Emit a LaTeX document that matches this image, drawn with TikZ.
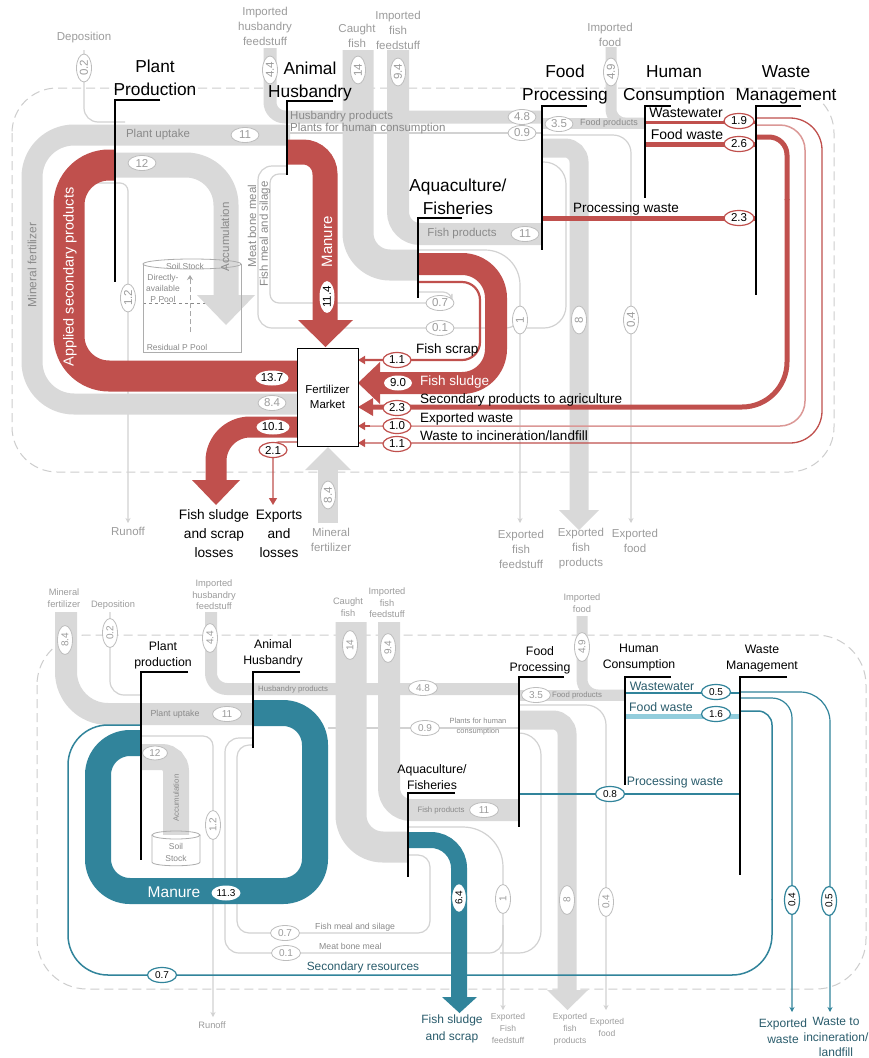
\documentclass[tikz,border=0pt]{standalone}
\usepackage{fontspec}
\setmainfont{Liberation Sans}
\usetikzlibrary{arrows.meta,shapes.geometric}
\definecolor{fred}{HTML}{C0504D}
\definecolor{fpink}{HTML}{DB9896}
\definecolor{fteal}{HTML}{31849B}
\definecolor{ftlight}{HTML}{92CDDC}
\definecolor{fttext}{HTML}{2A5C6C}
\definecolor{fband}{HTML}{D9D9D9}
\definecolor{fline}{HTML}{D2D2D2}
\definecolor{fgtext}{HTML}{9C9C9C}
\definecolor{fbtext}{HTML}{8A8A8A}
\definecolor{fdash}{HTML}{CDCDCD}
\definecolor{fell}{HTML}{BDBDBD}
\begin{document}
\begin{tikzpicture}[x=1pt,y=-1pt,
  thinl/.style={draw=fline, line width=1.2pt},
  tip/.style={-{Stealth[length=5pt,width=5pt]}},
  rtip/.style={-{Triangle[length=7pt,width=8pt]}},
  leader/.style={draw=black, line width=1.3pt},
  ttl/.style={align=center, inner sep=0pt, font=\fontsize{17.3}{23}\selectfont},
  sttl/.style={align=center, inner sep=0pt, font=\fontsize{12.3}{16}\selectfont},
  glab/.style={align=center, inner sep=0pt, text=fgtext, font=\fontsize{11.5}{15}\selectfont},
  sglab/.style={align=center, inner sep=0pt, text=fgtext, font=\fontsize{9.3}{11.5}\selectfont},
  xsglab/.style={align=center, inner sep=0pt, text=fgtext, font=\fontsize{8.5}{12}\selectfont},
  btext/.style={inner sep=0pt, text=fbtext, font=\fontsize{11.5}{12}\selectfont},
  sbtext/.style={inner sep=0pt, text=fbtext, font=\fontsize{7.8}{10}\selectfont, align=center},
  flab/.style={inner sep=0pt, anchor=west, font=\fontsize{13.5}{14}\selectfont},
  blab/.style={inner sep=0pt, align=center, font=\fontsize{13.7}{19}\selectfont},
  tlab/.style={inner sep=0pt, text=fttext, align=center, font=\fontsize{12.3}{17}\selectfont},
  num/.style={ellipse, inner sep=0.5pt, fill=white, minimum width=28pt, minimum height=15pt, font=\fontsize{11.5}{12}\selectfont},
  snum/.style={num, minimum width=29pt, minimum height=15pt, font=\fontsize{10}{11}\selectfont},
  eg/.style={draw=fell, line width=0.8pt, text=fgtext},
  er/.style={draw=fred, line width=1.2pt},
  et/.style={draw=fteal, line width=1.2pt},
  ew/.style={draw=none},
  cyl/.style={draw=fbtext!70, line width=0.8pt}
]
\path[use as bounding box, fill=white] (0,0) rectangle (868,1058);

% ================= upper diagram =================
\draw[fdash, line width=1pt, dash pattern=on 9pt off 5pt, rounded corners=45pt] (12,88) rectangle (834,472);

% thin grey flows
\draw[thinl, rounded corners=14pt] (84,50) -- (84,122) -- (125,122);
\draw[thinl, tip, rounded corners=8pt] (85,183) -- (128,183) -- (128,523);
\draw[thinl, rounded corners=14pt] (287,166) -- (258,166) -- (258,328) -- (520,328) -- (520,308);
\draw[thinl, rounded corners=9pt] (287,174) -- (270,174) -- (270,303) -- (452,303) -- (452,292) -- (418,292);
\draw[thinl, tip, rounded corners=35pt] (418,250) -- (520,250) -- (520,523);
\draw[thinl, rounded corners=22pt] (542,162) -- (566,162) -- (566,328) -- (522,328);
\draw[thinl] (290,133) -- (542,133);
\draw[thinl, tip, rounded corners=18pt] (542,135) -- (631,135) -- (631,523);

% grey bands
\draw[fband, line width=21pt, rounded corners=42pt] (297,404) -- (32,404) -- (32,135) -- (290,135);
\draw[fband, line width=25pt, rounded corners=40pt] (115,165) -- (226,165) -- (226,296);
\draw[fband, line width=13pt, rounded corners=15pt] (270,48) -- (270,117) -- (542,117);
\draw[fband, line width=11pt] (542,123) -- (645,123);
\draw[fband, line width=11pt, rounded corners=14pt] (611,47) -- (611,123) -- (645,123);
\draw[fband, line width=31pt, rounded corners=32pt] (358,50) -- (358,265) -- (418,265);
\draw[fband, line width=22pt, rounded corners=22pt] (398,50) -- (398,234) -- (542,234);
\draw[fband, line width=19pt, rounded corners=14pt] (542,148) -- (579,148) -- (579,511);
\fill[fband] (559,510) -- (599,510) -- (579,530) -- cycle;
\draw[fband, line width=20pt] (328,523) -- (328,469);
\fill[fband] (305,470) -- (351,470) -- (328,447) -- cycle;

% soil stock
\node[inner sep=0pt, text=fbtext, font=\fontsize{8.5}{10}\selectfont] (ss1) at (185,266) {Soil Stock};
\node[inner sep=0pt, text=fbtext, align=center, font=\fontsize{8.5}{11}\selectfont] (dap) at (163,288) {Directly-\\available\\P Pool};
\node[inner sep=0pt, text=fbtext, font=\fontsize{8.5}{10}\selectfont] (rpp) at (177,347) {Residual P Pool};
\draw[fbtext, line width=0.8pt, dashed] (143,303) -- (210,303);
\draw[fline!80!black, line width=1pt, dash pattern=on 5pt off 3pt, -{Stealth[length=5pt,width=6pt]}] (190,332) -- (190,275);
\fill[fband] (197,295) -- (255,295) -- (226,325) -- cycle;
\draw[cyl] (143,264) -- (143,352) -- (241,352) -- (241,264);
\draw[cyl] (192,264) ellipse (49 and 5);
\node[btext, rotate=90] (acc) at (225,237) {Accumulation};

% red flows
\draw[fred, line width=31pt, rounded corners=40pt] (297,376) -- (69,376) -- (69,165) -- (115,165);
\draw[fred, line width=25pt, rounded corners=22pt] (288,152) -- (325,152) -- (325,321);
\fill[fred] (298,320) -- (353,320) -- (325.5,347) -- cycle;
\draw[fred, line width=22pt, rounded corners=34pt] (418,264) -- (496,264) -- (496,383) -- (379,383);
\fill[fred] (380,362) -- (380,404) -- (358,383) -- cycle;
\draw[fred, line width=2.2pt, rtip, rounded corners=18pt] (418,282) -- (480,282) -- (480,360) -- (358,360);
\draw[fred, line width=3pt] (645,122) -- (756,122);
\draw[fred, line width=5pt] (645,144) -- (756,144);
\draw[fred, line width=5pt] (542,218) -- (756,218);
\draw[fred, line width=5pt, rounded corners=18pt] (756,137) -- (787,137) -- (787,200);
\draw[fred, line width=5pt, rounded corners=45pt] (787,199) -- (787,407) -- (372,407);
\fill[fred] (373,398) -- (373,416) -- (358,407) -- cycle;
\draw[fpink, line width=1.5pt, rounded corners=25pt] (756,125) -- (805,125) -- (805,426) -- (365,426);
\draw[fred, line width=1.3pt, rtip] (370,426) -- (358,426);
\draw[fred, line width=1.3pt, rtip, rounded corners=32pt] (756,118) -- (822,118) -- (822,443) -- (358,443);
\draw[fred, line width=21pt, rounded corners=34pt] (297,427) -- (216,427) -- (216,481);
\fill[fred] (192,480) -- (240,480) -- (216,505) -- cycle;
\draw[fred, line width=1.3pt, rtip, rounded corners=6pt] (297,442) -- (273,442) -- (273,505);

% fertilizer market
\node[draw=black, line width=1pt, fill=white, minimum width=61pt, minimum height=98pt, inner sep=0pt, align=center, font=\fontsize{11.5}{15}\selectfont] (fm) at (327.5,397) {Fertilizer\\Market};

% leaders
\draw[leader] (160,100) -- (115,100) -- (115,282);
\draw[leader] (333,101) -- (287,101) -- (287,175);
\draw[leader] (462,218) -- (418,218) -- (418,298);
\draw[leader] (587,106) -- (542,106) -- (542,250);
\draw[leader] (671,106) -- (645,106) -- (645,198);
\draw[leader] (801,106) -- (756,106) -- (756,295);

% band texts
\node[btext] (pu) at (158,135) {Plant uptake};
\node[btext, rotate=90, font=\fontsize{12}{12}\selectfont] (mf) at (32,265) {Mineral fertilizer};
\node[btext, anchor=west] (hp) at (290,117) {Husbandry products};
\node[btext, anchor=west] (phc) at (290,129) {Plants for human consumption};
\node[btext] (fpr) at (462,234) {Fish products};
\node[btext, font=\fontsize{9}{10}\selectfont] (fdp) at (609,123) {Food products};
\node[btext, rotate=90] (mbm) at (252,226) {Meat bone meal};
\node[btext, rotate=90] (fms) at (265,234) {Fish meal and silage};
\node[inner sep=0pt, rotate=90, text=white, font=\fontsize{14.5}{15}\selectfont] (asp) at (70,277) {Applied secondary products};
\node[inner sep=0pt, rotate=90, text=white, font=\fontsize{15}{15}\selectfont] (man) at (327,242) {Manure};

% values
\node[num, eg, rotate=90] (v1) at (84,68) {0.2};
\node[num, eg, rotate=90] (v2) at (270,70) {4.4};
\node[num, eg, rotate=90] (v3) at (358,70) {14};
\node[num, eg, rotate=90] (v4) at (398,72) {9.4};
\node[num, eg, rotate=90] (v5) at (611,72) {4.9};
\node[num, eg] (v6) at (245,135) {11};
\node[num, eg] (v7) at (142,163) {12};
\node[num, eg, rotate=90] (v8) at (128,298) {1.2};
\node[num, eg] (v9) at (522,117) {4.8};
\node[num, eg] (v10) at (522,133) {0.9};
\node[num, eg] (v11) at (559,124) {3.5};
\node[num, eg] (v12) at (525,234) {11};
\node[num, eg] (v13) at (440,303) {0.7};
\node[num, eg] (v14) at (440,328) {0.1};
\node[num, eg, rotate=90] (v15) at (520,320) {1};
\node[num, eg, rotate=90] (v16) at (579,320) {8};
\node[num, eg, rotate=90] (v17) at (631,320) {0.4};
\node[num, eg] (v18) at (272,403) {8.4};
\node[num, eg, rotate=90] (v19) at (328,495) {8.4};
\node[num, ew] (v20) at (272,378) {13.7};
\node[num, ew] (v21) at (273,427) {10.1};
\node[num, ew, rotate=90] (v22) at (327,297) {11.4};
\node[num, ew] (v23) at (398,383) {9.0};
\node[num, er] (v24) at (397,360) {1.1};
\node[num, er] (v25) at (397,408) {2.3};
\node[num, er] (v26) at (397,426) {1.0};
\node[num, er] (v27) at (397,444) {1.1};
\node[num, er] (v28) at (273,450) {2.1};
\node[num, er, minimum width=30pt] (v29) at (739,121) {1.9};
\node[num, er, minimum width=30pt] (v30) at (739,144) {2.6};
\node[num, er, minimum width=30pt] (v31) at (739,218) {2.3};

% titles
\node[ttl] (t1) at (155,78) {Plant\\Production};
\node[ttl] (t2) at (310,82) {Animal\\Husbandry};
\node[ttl] (t3) at (458,197) {Aquaculture/\\Fisheries};
\node[ttl] (t4) at (565,85) {Food\\Processing};
\node[ttl] (t5) at (674,85) {Human\\Consumption};
\node[ttl] (t6) at (786,85) {Waste\\Management};

% grey labels
\node[glab] (g1) at (84,38) {Deposition};
\node[glab] (g2) at (265,26) {Imported\\husbandry\\feedstuff};
\node[glab] (g3) at (357,36) {Caught\\fish};
\node[glab] (g4) at (398,30) {Imported\\fish\\feedstuff};
\node[glab] (g5) at (610,35) {Imported\\food};
\node[glab] (g6) at (128,531) {Runoff};
\node[glab] (g7) at (331,540) {Mineral\\fertilizer};
\node[glab] (g8) at (521,549) {Exported\\fish\\feedstuff};
\node[glab] (g9) at (581,549) {Exported\\fish\\products};
\node[glab] (g10) at (635,541) {Exported\\food};

% flow labels
\node[flab] (l1) at (416,350) {Fish scrap};
\node[flab, text=white] (l2) at (420,382) {Fish sludge};
\node[flab] (l3) at (420,400) {Secondary products to agriculture};
\node[flab] (l4) at (420,419) {Exported waste};
\node[flab] (l5) at (420,436) {Waste to incineration/landfill};
\node[flab, anchor=center, font=\fontsize{14}{14}\selectfont] (l6) at (686,113) {Wastewater};
\node[flab, anchor=center, font=\fontsize{14}{14}\selectfont] (l7) at (687,134) {Food waste};
\node[flab, anchor=center] (l8) at (626,209) {Processing waste};
\node[blab] (l9) at (214,534) {Fish sludge\\and scrap\\losses};
\node[blab] (l10) at (279,534) {Exports\\and\\losses};

% ================= lower diagram =================
\draw[fdash, line width=1pt, dash pattern=on 9pt off 5pt, rounded corners=50pt] (37,635) rectangle (866,989);

% thin grey flows
\draw[thinl, rounded corners=14pt] (110,612) -- (110,695) -- (142,695);
\draw[thinl, tip, rounded corners=10pt] (141,736) -- (213,736) -- (213,1017);
\draw[thinl, rounded corners=14pt] (253,738) -- (225,738) -- (225,953) -- (503,953) -- (503,925);
\draw[thinl, rounded corners=12pt] (253,745) -- (237,745) -- (237,933) -- (430,933) -- (430,855) -- (408,855);
\draw[thinl, tip, rounded corners=40pt] (408,827) -- (503,827) -- (503,1010);
\draw[thinl, rounded corners=22pt] (519,733) -- (541,733) -- (541,953) -- (500,953);
\draw[thinl] (328,728) -- (519,728);
\draw[thinl, tip, rounded corners=20pt] (519,705) -- (606,705) -- (606,1010);

% grey bands
\draw[fband, line width=22pt, rounded corners=42pt] (66,612) -- (66,714) -- (253,714);
\draw[fband, line width=26pt, rounded corners=14pt] (141,757) -- (176,757) -- (176,835);
\draw[fband, line width=12pt, rounded corners=16pt] (211,612) -- (211,689) -- (519,689);
\draw[fband, line width=31pt, rounded corners=32pt] (351,622) -- (351,847) -- (408,847);
\draw[fband, line width=22pt, rounded corners=22pt] (389,622) -- (389,810) -- (519,810);
\draw[fband, line width=11pt] (519,695) -- (625,695);
\draw[fband, line width=11pt, rounded corners=16pt] (582,616) -- (582,695) -- (625,695);
\draw[fband, line width=19pt, rounded corners=14pt] (519,720) -- (567,720) -- (567,991);
\fill[fband] (547,990) -- (588,990) -- (567.5,1010) -- cycle;

% soil stock
\fill[white] (152,835) rectangle (200,862);
\draw[cyl] (152,835) -- (152,862) .. controls (152,867) and (200,867) .. (200,862) -- (200,835);
\draw[cyl] (176,835) ellipse (24 and 4);
\node[inner sep=0pt, text=fbtext, align=center, font=\fontsize{8.5}{12}\selectfont] (ss2) at (176,852) {Soil\\Stock};
\node[sbtext, rotate=90] (acc2) at (176,798) {Accumulation};

% teal flows
\draw[fteal, line width=26pt, rounded corners=32pt] (253,713) -- (315,713) -- (315,891) -- (98,891) -- (98,743) -- (141,743);
\draw[fteal, line width=16pt, rounded corners=28pt] (408,840) -- (459,840) -- (459,998);
\fill[fteal] (442,997) -- (477,997) -- (459.5,1013) -- cycle;
\draw[fteal, line width=1.3pt] (625,693) -- (740,693);
\draw[ftlight, line width=5pt] (625,716) -- (740,716);
\draw[fteal, line width=1.3pt] (519,794) -- (740,794);
\draw[fteal, line width=1.2pt, tip, rounded corners=30pt] (740,692) -- (830,692) -- (830,1012);
\draw[fteal, line width=1.2pt, tip, rounded corners=20pt] (740,698) -- (792,698) -- (792,1012);
\draw[fteal, line width=1.5pt, rounded corners=14pt] (740,711) -- (772,711) -- (772,900);
\draw[fteal, line width=1.5pt, rounded corners=40pt] (772,899) -- (772,975) -- (68,975) -- (68,725) -- (141,725);

% leaders
\draw[leader] (188,672) -- (141,672) -- (141,860);
\draw[leader] (300,672) -- (253,672) -- (253,748);
\draw[leader] (455,793) -- (408,793) -- (408,877);
\draw[leader] (564,677) -- (519,677) -- (519,827);
\draw[leader] (671,677) -- (625,677) -- (625,785);
\draw[leader] (787,677) -- (740,677) -- (740,875);

% band texts
\node[sbtext, font=\fontsize{8.8}{10}\selectfont] (pu2) at (175,714) {Plant uptake};
\node[sbtext, anchor=west] (hp2) at (258,689) {Husbandry products};
\node[sbtext, font=\fontsize{7.5}{10}\selectfont] (phc2) at (478,727) {Plants for human\\consumption};
\node[sbtext] (fpr2) at (441,810) {Fish products};
\node[sbtext] (fdp2) at (577,695) {Food products};
\node[sbtext, font=\fontsize{8.7}{10}\selectfont, anchor=west] (fms2) at (315,927) {Fish meal and silage};
\node[sbtext, font=\fontsize{8.7}{10}\selectfont, anchor=west] (mbm2) at (319,946) {Meat bone meal};
\node[inner sep=0pt, text=white, font=\fontsize{15.5}{16}\selectfont] (man2) at (174,892) {Manure};

% values
\node[snum, eg, rotate=90] (w1) at (65,640) {8.4};
\node[snum, eg, rotate=90] (w2) at (110,633) {0.2};
\node[snum, eg, rotate=90] (w3) at (210,638) {4.4};
\node[snum, eg, rotate=90] (w4) at (350,645) {14};
\node[snum, eg, rotate=90] (w5) at (388,648) {9.4};
\node[snum, eg, rotate=90] (w6) at (582,647) {4.9};
\node[snum, eg] (w7) at (227,714) {11};
\node[snum, eg, minimum width=25pt, minimum height=14pt] (w8) at (155,753) {12};
\node[snum, eg, rotate=90] (w9) at (213,825) {1.2};
\node[snum, eg] (w10) at (423,688) {4.8};
\node[snum, eg] (w11) at (425,728) {0.9};
\node[snum, eg] (w12) at (536,695) {3.5};
\node[snum, eg] (w13) at (484,810) {11};
\node[snum, eg] (w14) at (285,933) {0.7};
\node[snum, eg] (w15) at (286,953) {0.1};
\node[snum, eg, rotate=90] (w16) at (503,899) {1};
\node[snum, eg, rotate=90] (w17) at (567,900) {8};
\node[snum, eg, rotate=90] (w18) at (606,902) {0.4};
\node[snum, et] (w19) at (716,692) {0.5};
\node[snum, et] (w20) at (716,714) {1.6};
\node[snum, et] (w21) at (610,794) {0.8};
\node[snum, et] (w22) at (162,975) {0.7};
\node[snum, et, rotate=90] (w23) at (792,900) {0.4};
\node[snum, et, rotate=90] (w24) at (829,901) {0.5};
\node[snum, et, rotate=90] (w25) at (459,898) {6.4};
\node[snum, ew] (w26) at (226,893) {11.3};

% titles
\node[sttl] (u1) at (163,655) {Plant\\production};
\node[sttl] (u2) at (273,653) {Animal\\Husbandry};
\node[sttl] (u3) at (432,777) {Aquaculture/\\Fisheries};
\node[sttl] (u4) at (540,660) {Food\\Processing};
\node[sttl] (u5) at (639,658) {Human\\Consumption};
\node[sttl] (u6) at (762,659) {Waste\\Management};

% grey labels
\node[sglab] (h1) at (64,598) {Mineral\\fertilizer};
\node[sglab] (h2) at (113,605) {Deposition};
\node[sglab] (h3) at (214,595) {Imported\\husbandry\\feedstuff};
\node[sglab] (h4) at (348,607) {Caught\\fish};
\node[sglab] (h5) at (387,603) {Imported\\fish\\feedstuff};
\node[sglab] (h6) at (582,603) {Imported\\food};
\node[sglab] (h7) at (212,1025) {Runoff};
\node[xsglab] (h8) at (508,1028) {Exported\\Fish\\feedstuff};
\node[xsglab] (h9) at (570,1029) {Exported\\fish\\products};
\node[xsglab] (h10) at (607,1027) {Exported\\food};

% flow labels
\node[tlab] (m1) at (662,686) {Wastewater};
\node[tlab] (m2) at (661,707) {Food waste};
\node[tlab] (m3) at (675,782) {Processing waste};
\node[tlab, font=\fontsize{11.9}{13}\selectfont] (m4) at (363,967) {Secondary resources};
\node[tlab, font=\fontsize{12}{17}\selectfont] (m5) at (452,1029) {Fish sludge\\and scrap};
\node[tlab, font=\fontsize{12}{16}\selectfont] (m6) at (783,1031) {Exported\\waste};
\node[tlab, font=\fontsize{12}{15.5}\selectfont] (m7) at (836,1037) {Waste to\\incineration/\\landfill};
\end{tikzpicture}
\end{document}
